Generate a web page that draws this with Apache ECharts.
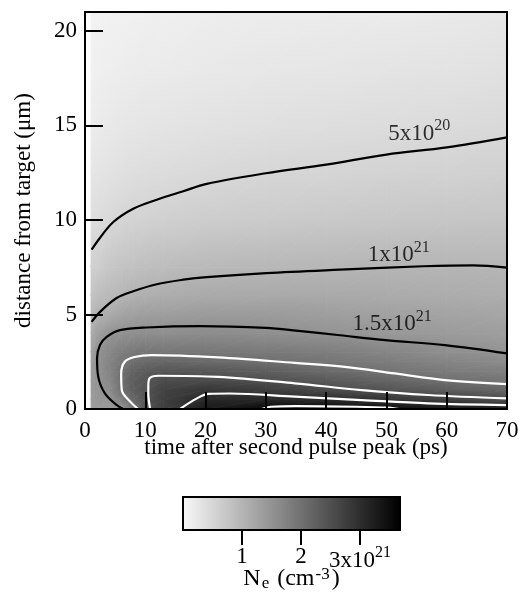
<!DOCTYPE html>
<html>
<head>
<meta charset="utf-8">
<title>Ne contour</title>
<script src="https://cdn.jsdelivr.net/npm/echarts@6/dist/echarts.min.js"></script>
<style>
  html, body { margin: 0; padding: 0; background: #fff; }
  #chart { width: 519px; height: 610px; }
</style>
</head>
<body>
<div id="chart"></div>
<script>
// grid of the density map, values in 1e21 cm^-3
var TIMES = [1, 2, 4, 6, 8, 10, 13, 20, 30, 40, 50, 60, 70];
var DIST = [0, 0.5, 1, 1.5, 2, 2.5, 3, 4, 5, 6, 7.5, 10, 12.5, 15, 18, 21];
var NE = [  // one row per time, one value per distance
    [1.35, 1.37, 1.38, 1.38, 1.37, 1.33, 1.28, 1.13, 0.93, 0.78, 0.59, 0.38, 0.26, 0.17, 0.11, 0.08],
    [1.40, 1.44, 1.46, 1.48, 1.50, 1.51, 1.48, 1.30, 1.04, 0.86, 0.63, 0.42, 0.29, 0.20, 0.13, 0.09],
    [1.38, 1.47, 1.58, 1.68, 1.72, 1.72, 1.67, 1.49, 1.15, 0.93, 0.72, 0.48, 0.33, 0.23, 0.15, 0.10],
    [1.45, 1.78, 2.00, 2.03, 2.01, 1.93, 1.82, 1.53, 1.25, 1.00, 0.78, 0.52, 0.36, 0.25, 0.17, 0.11],
    [1.93, 2.15, 2.28, 2.30, 2.22, 2.06, 1.92, 1.56, 1.30, 1.05, 0.82, 0.55, 0.38, 0.27, 0.18, 0.12],
    [2.42, 2.44, 2.45, 2.42, 2.32, 2.12, 1.94, 1.58, 1.34, 1.08, 0.86, 0.57, 0.40, 0.28, 0.19, 0.13],
    [2.75, 2.75, 2.70, 2.57, 2.42, 2.16, 1.93, 1.57, 1.34, 1.12, 0.88, 0.60, 0.42, 0.30, 0.20, 0.14],
    [3.30, 3.10, 2.88, 2.58, 2.40, 2.10, 1.93, 1.60, 1.38, 1.16, 0.93, 0.64, 0.46, 0.33, 0.23, 0.16],
    [3.58, 3.12, 2.78, 2.51, 2.28, 2.04, 1.88, 1.56, 1.38, 1.17, 0.96, 0.67, 0.50, 0.36, 0.25, 0.18],
    [3.58, 3.05, 2.58, 2.36, 2.10, 1.95, 1.82, 1.50, 1.34, 1.17, 0.98, 0.70, 0.52, 0.38, 0.27, 0.19],
    [3.52, 2.90, 2.44, 2.20, 1.98, 1.84, 1.70, 1.42, 1.29, 1.15, 1.00, 0.73, 0.55, 0.41, 0.29, 0.20],
    [3.35, 2.75, 2.30, 2.04, 1.86, 1.72, 1.56, 1.38, 1.26, 1.13, 1.00, 0.74, 0.57, 0.43, 0.31, 0.22],
    [3.25, 2.52, 2.15, 1.95, 1.80, 1.62, 1.50, 1.34, 1.22, 1.10, 0.99, 0.76, 0.59, 0.46, 0.34, 0.25]
];

// contour lines [time, distance]
var C05 = [[1.1, 8.43], [2.5, 9.06], [4.7, 9.89], [8, 10.59], [11.9, 11.07], [16.3, 11.52], [20.2, 11.91],
    [30, 12.47], [40, 12.93], [50, 13.46], [60, 13.84], [70, 14.37]];
var C10 = [[1.1, 4.61], [2.5, 5.14], [5.25, 5.87], [8, 6.23], [11.9, 6.6], [16.3, 6.84], [20.2, 6.98],
    [30.1, 7.19], [42.3, 7.37], [56.1, 7.55], [64.4, 7.6], [70, 7.48]];
var C15 = [[70, 2.94], [59.7, 3.38], [49.8, 3.64], [42.3, 3.9], [35, 4.15], [30, 4.29], [19.1, 4.38],
    [10.2, 4.31], [5.8, 4.17], [3.6, 3.82], [2.5, 3.4], [2.0, 2.7], [2.2, 1.7], [3.3, 0.83], [5.25, 0.21], [6.35, 0]];
var C20 = [[70, 1.32], [59.7, 1.53], [51.4, 1.88], [43.1, 2.23], [34.8, 2.44], [22.1, 2.73], [11.1, 2.85],
    [8.2, 2.75], [6.6, 2.5], [6.0, 1.88], [6.1, 1.0], [7.5, 0.39], [8.8, 0]];
var C25 = [[70, 0.56], [56.9, 0.74], [45.9, 1.0], [34.8, 1.36], [22.1, 1.7], [12.2, 1.76], [10.7, 1.62],
    [10.5, 1.2], [10.5, 0.83], [10.8, 0]];
var C30 = [[70, 0.21], [56.9, 0.3], [45.9, 0.47], [34.8, 0.65], [24, 0.82], [20.5, 0.8], [18.5, 0.55], [15.75, 0]];
var C35 = [[29.3, 0], [30.8, 0.12], [35, 0.15], [45, 0.12], [50.3, 0.07], [52, 0]];

// contour labels, anchored at their left end
var LABEL_T = [50.2, 46.8, 44.3];
var LABEL_Y = [14.56, 8.13, 4.49];
var LABEL_BASE = ['5x10', '1x10', '1.5x10'];
var LABEL_EXP = ['20', '21', '21'];

var X_TICKS = [0, 10, 20, 30, 40, 50, 60, 70];
var Y_TICKS = [0, 5, 10, 15, 20];
var CBAR_TICKS = [1, 2, 3];
var CBAR_MAX = 3.68;

var SERIF = '"Liberation Serif", "DejaVu Serif", serif';
var FS = 23;

function grayOf(v) {
    var f = Math.min(Math.max(v / CBAR_MAX, 0), 1);
    var g = Math.round(248 * (1 - f));
    return 'rgb(' + g + ',' + g + ',' + g + ')';
}

// planar shading of a triangle: one linear gradient along the value gradient
function triFill(pa, pb, pc, va, vb, vc) {
    var e1x = pb[0] - pa[0], e1y = pb[1] - pa[1];
    var e2x = pc[0] - pa[0], e2y = pc[1] - pa[1];
    var d1 = vb - va, d2 = vc - va;
    var det = e1x * e2y - e1y * e2x;
    var lo = Math.min(va, vb, vc), hi = Math.max(va, vb, vc);
    if (Math.abs(det) < 1e-9 || hi - lo < 1e-6) return grayOf(va);
    var gx = (d1 * e2y - d2 * e1y) / det;
    var gy = (e1x * d2 - e2x * d1) / det;
    var g2 = gx * gx + gy * gy;
    if (g2 < 1e-14) return grayOf(va);
    var s = (lo - va) / g2, e = (hi - va) / g2;
    return {
        type: 'linear', global: true,
        x: pa[0] + gx * s, y: pa[1] + gy * s,
        x2: pa[0] + gx * e, y2: pa[1] + gy * e,
        colorStops: [{offset: 0, color: grayOf(lo)}, {offset: 1, color: grayOf(hi)}]
    };
}

function tri(a, b, c, va, vb, vc) {
    var fill = triFill(a, b, c, va, vb, vc);
    return {
        type: 'polygon',
        shape: {points: [a, b, c]},
        style: {fill: fill, stroke: fill, lineWidth: 0.8}
    };
}

var cells = [];
for (var i = 0; i < TIMES.length - 1; i++) {
    for (var j = 0; j < DIST.length - 1; j++) {
        cells.push([TIMES[i], DIST[j], TIMES[i + 1], DIST[j + 1], i, j]);
    }
}

function renderCell(params, api) {
    var i = api.value(4), j = api.value(5);
    var p00 = api.coord([api.value(0), api.value(1)]);
    var p10 = api.coord([api.value(2), api.value(1)]);
    var p01 = api.coord([api.value(0), api.value(3)]);
    var p11 = api.coord([api.value(2), api.value(3)]);
    var v00 = NE[i][j], v10 = NE[i + 1][j], v01 = NE[i][j + 1], v11 = NE[i + 1][j + 1];
    return {
        type: 'group',
        children: [
            tri(p00, p10, p11, v00, v10, v11),
            tri(p00, p11, p01, v00, v11, v01)
        ]
    };
}

function renderBar(params, api) {
    var a = api.coord([api.value(0), api.value(1)]);
    var b = api.coord([api.value(2), api.value(3)]);
    return {
        type: 'rect',
        shape: {x: a[0], y: b[1], width: b[0] - a[0], height: a[1] - b[1]},
        style: {
            fill: {
                type: 'linear', x: 0, y: 0, x2: 1, y2: 0,
                colorStops: [{offset: 0, color: grayOf(0)}, {offset: 1, color: grayOf(CBAR_MAX)}]
            }
        }
    };
}

function contour(data, color) {
    return {
        type: 'line', xAxisIndex: 0, yAxisIndex: 0,
        data: data, smooth: 0.35, symbol: 'none', silent: true, z: 3,
        lineStyle: {color: color, width: 2.2}
    };
}

var labelData = [];
for (var k = 0; k < LABEL_T.length; k++) {
    labelData.push({value: [LABEL_T[k], LABEL_Y[k]], base: LABEL_BASE[k], exp: LABEL_EXP[k]});
}

var richNum = {
    b: {fontSize: FS, fontFamily: SERIF, color: '#000'},
    s: {fontSize: 16, fontFamily: SERIF, color: '#000', padding: [0, 0, 15, 0]}
};

var chart = echarts.init(document.getElementById('chart'), null, {renderer: 'canvas'});

var option = {
    animation: false,
    backgroundColor: '#fff',
    textStyle: {fontFamily: SERIF, color: '#000'},
    grid: [
        {left: 85, top: 12, width: 422, height: 397, show: true, borderColor: '#000', borderWidth: 2,
            backgroundColor: 'transparent', z: 10, containLabel: false, outerBoundsMode: 'none'},
        {left: 183, top: 497, width: 217, height: 33, show: true, borderColor: '#000', borderWidth: 2,
            backgroundColor: 'transparent', z: 10, containLabel: false, outerBoundsMode: 'none'}
    ],
    xAxis: [
        {
            type: 'value', gridIndex: 0, min: 0, max: 70, interval: 10, z: 8,
            axisLine: {show: true, onZero: false, lineStyle: {color: '#000', width: 2}},
            axisTick: {show: true, inside: true, length: 17, customValues: X_TICKS, lineStyle: {color: '#000', width: 2}},
            axisLabel: {color: '#000', fontSize: FS, fontFamily: SERIF, margin: 10, customValues: X_TICKS},
            splitLine: {show: false},
            name: 'time after second pulse peak (ps)', nameLocation: 'middle', nameGap: 27, nameMoveOverlap: false,
            nameTextStyle: {color: '#000', fontSize: FS, fontFamily: SERIF}
        },
        {
            type: 'value', gridIndex: 1, min: 0, max: CBAR_MAX, z: 8,
            axisLine: {show: false},
            axisTick: {show: true, inside: false, length: 15, customValues: CBAR_TICKS, lineStyle: {color: '#000', width: 2}},
            axisLabel: {
                customValues: CBAR_TICKS, margin: 15,
                formatter: function (v) {
                    return v === 3 ? '{b|3x10}{s|21}' : '{b|' + v + '}';
                },
                rich: richNum
            },
            splitLine: {show: false},
            name: '{b|N}{sub|e}{b| (cm}{sup|-3}{b|)}', nameLocation: 'middle', nameGap: 36, nameMoveOverlap: false,
            nameTextStyle: {
                rich: {
                    b: {fontSize: 24, fontFamily: SERIF, color: '#000'},
                    sub: {fontSize: 17, fontFamily: SERIF, color: '#000', padding: [9, 2, 0, 1]},
                    sup: {fontSize: 17, fontFamily: SERIF, color: '#000', padding: [0, 2, 9, 1]}
                }
            }
        }
    ],
    yAxis: [
        {
            type: 'value', gridIndex: 0, min: 0, max: 21, interval: 5, z: 8,
            axisLine: {show: true, onZero: false, lineStyle: {color: '#000', width: 2}},
            axisTick: {show: true, inside: true, length: 18, customValues: Y_TICKS, lineStyle: {color: '#000', width: 2}},
            axisLabel: {color: '#000', fontSize: FS, fontFamily: SERIF, margin: 8, customValues: Y_TICKS},
            splitLine: {show: false},
            name: 'distance from target (\u03bcm)', nameLocation: 'middle', nameGap: 50, nameMoveOverlap: false,
            nameTextStyle: {color: '#000', fontSize: FS, fontFamily: SERIF}
        },
        {type: 'value', gridIndex: 1, min: 0, max: 1, show: false}
    ],
    series: [
        {
            type: 'custom', xAxisIndex: 0, yAxisIndex: 0, data: cells,
            encode: {x: [0, 2], y: [1, 3]}, renderItem: renderCell, silent: true, z: 1, clip: true
        },
        contour(C05, '#000'),
        contour(C10, '#000'),
        contour(C15, '#000'),
        contour(C20, '#fff'),
        contour(C25, '#fff'),
        contour(C30, '#fff'),
        contour(C35, '#fff'),
        {
            type: 'scatter', xAxisIndex: 0, yAxisIndex: 0, data: labelData,
            symbolSize: 1, itemStyle: {color: 'rgba(0,0,0,0)'}, silent: true, z: 4,
            label: {
                show: true, position: 'right', distance: 0,
                formatter: function (p) {
                    return '{b|' + p.data.base + '}{s|' + p.data.exp + '}';
                },
                rich: richNum
            }
        },
        {
            type: 'custom', xAxisIndex: 1, yAxisIndex: 1, data: [[0, 0, CBAR_MAX, 1]],
            encode: {x: [0, 2], y: [1, 3]}, renderItem: renderBar, silent: true, z: 1
        }
    ]
};

chart.setOption(option);
</script>
</body>
</html>
